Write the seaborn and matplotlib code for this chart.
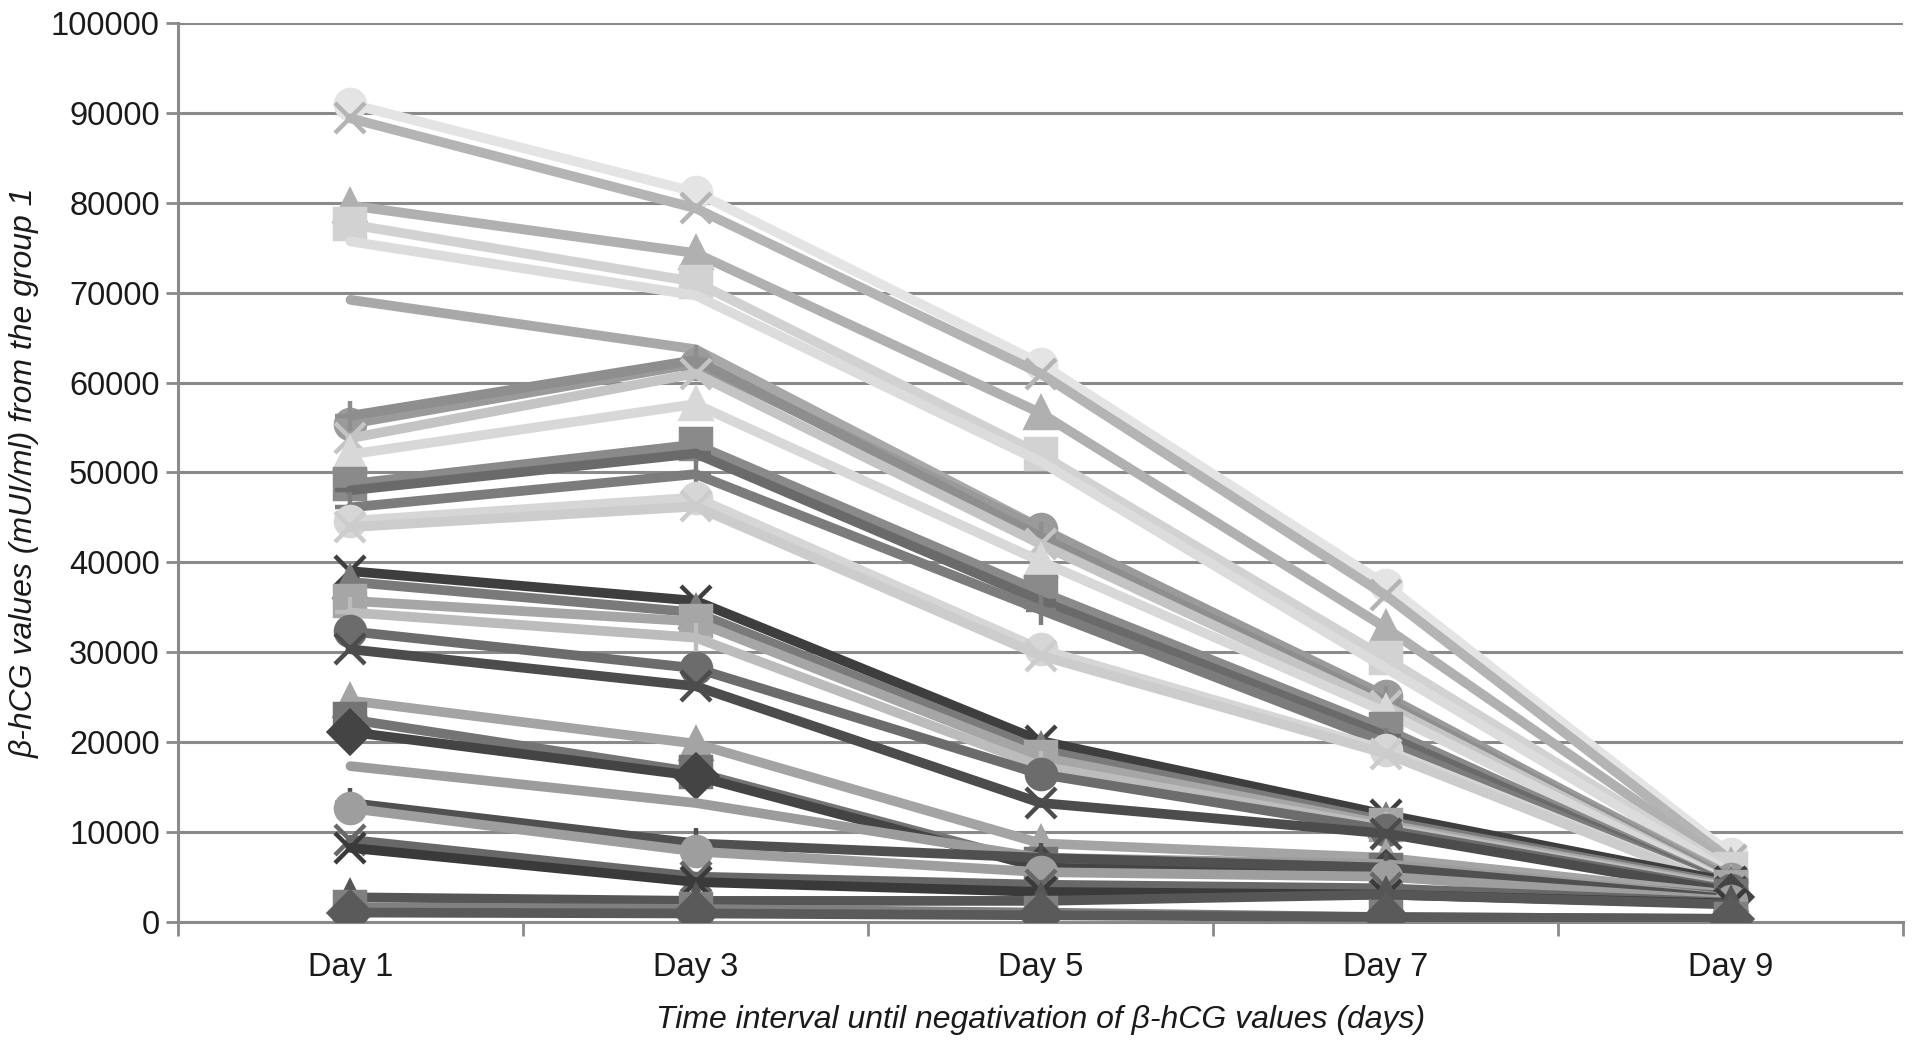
import numpy as np
import pandas as pd
import matplotlib
matplotlib.use("Agg")
import matplotlib.pyplot as plt
import seaborn as sns

days = ["Day 1", "Day 3", "Day 5", "Day 7", "Day 9"]

# one row per patient: values on day 1, 3, 5, 7, 9 (mUI/ml)
p01 = [91000, 81200, 62100, 37500, 7500]
p02 = [89400, 79400, 61000, 36300, 6800]
p03 = [79700, 74400, 56600, 32700, 6200]
p04 = [77600, 71200, 52000, 29300, 5800]
p05 = [75700, 69700, 51200, 28200, 5400]
p06 = [69200, 63700, 43800, 24800, 5000]
p07 = [55400, 62100, 43700, 25100, 4700]
p08 = [56300, 62500, 42800, 24500, 4500]
p09 = [53800, 61000, 42000, 24000, 4300]
p10 = [52000, 57600, 40100, 23300, 4200]
p11 = [48700, 53100, 36700, 21400, 4000]
p12 = [48000, 52100, 35700, 20700, 3900]
p13 = [46100, 49800, 34700, 19900, 3800]
p14 = [44600, 47200, 30300, 19100, 3700]
p15 = [43900, 46200, 29600, 18700, 3600]
p16 = [39000, 35700, 20100, 11900, 4400]
p17 = [37800, 34400, 19100, 11200, 4100]
p18 = [35700, 33400, 18300, 10800, 3900]
p19 = [34400, 31600, 17300, 10500, 3700]
p20 = [32300, 28200, 16400, 10200, 3500]
p21 = [30300, 26200, 13200, 9800, 3300]
p22 = [24600, 19800, 8700, 7100, 3000]
p23 = [22500, 16600, 6400, 5700, 2800]
p24 = [21100, 16200, 6000, 5400, 2700]
p25 = [17300, 13200, 7100, 6400, 2600]
p26 = [13200, 8700, 7100, 6000, 2500]
p27 = [12600, 7800, 5500, 5000, 2300]
p28 = [9100, 5000, 4100, 3700, 2100]
p29 = [8200, 4400, 3300, 3000, 2000]
p30 = [2700, 2300, 2300, 3000, 1900]
p31 = [1600, 1400, 1000, 500, 300]
p32 = [1000, 900, 700, 500, 300]

series = [p01, p02, p03, p04, p05, p06, p07, p08, p09, p10, p11, p12, p13, p14, p15, p16,
          p17, p18, p19, p20, p21, p22, p23, p24, p25, p26, p27, p28, p29, p30, p31, p32]

grays = ["#e4e4e4", "#b4b4b4", "#b0b0b0", "#d2d2d2", "#dcdcdc", "#a8a8a8", "#9a9a9a", "#8e8e8e",
         "#c4c4c4", "#d8d8d8", "#8a8a8a", "#6a6a6a", "#7c7c7c", "#d6d6d6", "#cccccc", "#3e3e3e",
         "#7a7a7a", "#a6a6a6", "#bcbcbc", "#6c6c6c", "#4c4c4c", "#a4a4a4", "#747474", "#444444",
         "#9c9c9c", "#505050", "#9e9e9e", "#686868", "#3a3a3a", "#565656", "#808080", "#5a5a5a"]

marks = ["o", "x", "^", "s", None, None, "o", "+", "x", "^", "s", "_", "+", "o", "x", "x",
         "^", "s", "+", "o", "x", "^", "s", "D", None, "+", "o", "x", "x", "^", "s", "D"]

plt.rcParams["font.family"] = ["Liberation Sans", "DejaVu Sans"]

fig, ax = plt.subplots(figsize=(19.13, 10.52), dpi=100)
fig.subplots_adjust(left=0.093, right=0.995, top=0.978, bottom=0.124)

for vals, c, m in zip(series, grays, marks):
    d = pd.DataFrame({"day": days, "value": vals})
    sns.lineplot(data=d, x="day", y="value", ax=ax, color=c, lw=7, marker=m,
                 markersize=21, markeredgecolor=c, markeredgewidth=3.2,
                 solid_capstyle="round", sort=False, zorder=3)

ax.set_xlim(-0.5, len(days) - 0.5)
ax.set_ylim(0, 100000)
ax.set_yticks(np.arange(0, 100001, 10000))
ax.set_yticklabels([str(v) for v in range(0, 100001, 10000)])
ax.set_xticks(range(len(days)))
ax.set_xticklabels(days)
ax.set_xticks(np.arange(-0.5, len(days), 1), minor=True)

ax.yaxis.grid(True, color="#8a8a8a", lw=2.2, zorder=1)
ax.xaxis.grid(False)
ax.set_axisbelow(True)
for s in ["top", "right"]:
    ax.spines[s].set_visible(False)
for s in ["left", "bottom"]:
    ax.spines[s].set_color("#8a8a8a")
    ax.spines[s].set_linewidth(2.2)

ax.tick_params(axis="y", which="major", length=9, width=2, color="#8a8a8a",
               labelsize=23.5, pad=4, labelcolor="#1a1a1a")
ax.tick_params(axis="x", which="major", length=0, labelsize=23.5, pad=22, labelcolor="#1a1a1a")
ax.tick_params(axis="x", which="minor", length=10, width=2, color="#8a8a8a")

ax.set_xlabel("Time interval until negativation of β-hCG values (days)", fontsize=23,
              style="italic", labelpad=16, color="#1a1a1a")
ax.set_ylabel("β-hCG values (mUI/ml) from the group 1", fontsize=23,
              style="italic", labelpad=8, color="#1a1a1a")

fig.savefig("out.png", dpi=100)
